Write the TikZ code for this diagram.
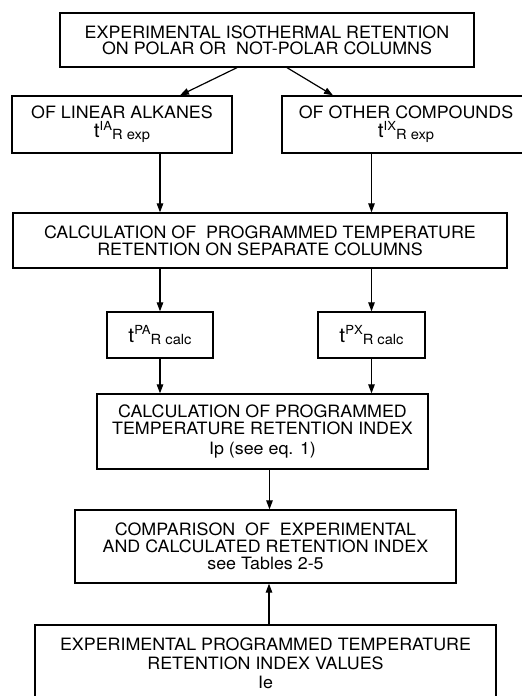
\documentclass[tikz,border=0pt]{standalone}
\usepackage{fontspec}
\setmainfont{TeX Gyre Heros}[FakeStretch=1.05]
\usepackage{tikz}
\usetikzlibrary{arrows.meta}
\newcommand\tret[2]{{\fontsize{20}{20}\selectfont t}\raisebox{7.5pt}{\fontsize{12.5}{12.5}\selectfont #1}\raisebox{-2pt}{\fontsize{14}{14}\selectfont R #2}}
\tikzstyle{box}=[draw,line width=1.3pt,align=center,inner sep=0pt,font=\fontsize{17}{17}\selectfont]
\tikzstyle{arr}=[line width=1.2pt,-{Triangle[length=9pt,width=6.5pt]}]

\begin{document}
\begin{tikzpicture}[x=1pt,y=-1pt]
	\useasboundingbox (0,0) rectangle (522,696);
	\node[box,minimum width=414pt,minimum height=54pt,font=\fontsize{17}{16}\selectfont] (top) at (267,40)
		{EXPERIMENTAL ISOTHERMAL RETENTION\\ON POLAR OR\ \ NOT-POLAR COLUMNS};
	\node[box,minimum width=220pt,minimum height=57pt] (alk) at (122,124.5)
		{OF LINEAR ALKANES\\[2pt]\tret{IA}{exp}};
	\node[box,minimum width=248pt,minimum height=57pt] (oth) at (406,124.5)
		{OF OTHER COMPOUNDS\\[2pt]\tret{IX}{exp}};
	\node[box,minimum width=494pt,minimum height=55pt] (calc) at (260,240.5)
		{CALCULATION OF\ \ PROGRAMMED TEMPERATURE\\RETENTION ON SEPARATE COLUMNS};
	\node[box,minimum width=106pt,minimum height=46pt] (pa) at (160,335) {\tret{PA}{calc}};
	\node[box,minimum width=107pt,minimum height=46pt] (px) at (371.5,335) {\tret{PX}{calc}};
	\node[box,minimum width=331pt,minimum height=75pt] (idx) at (262.5,431.5)
		{CALCULATION OF PROGRAMMED\\TEMPERATURE RETENTION INDEX\\[3pt]Ip (see eq. 1)};
	\node[box,minimum width=381pt,minimum height=73pt] (cmp) at (265.5,546.5)
		{COMPARISON\ \ OF\ \ EXPERIMENTAL\\AND CALCULATED RETENTION INDEX\\see Tables 2-5};
	\node[box,minimum width=461pt,minimum height=76pt] (ie) at (265.5,663)
		{EXPERIMENTAL PROGRAMMED TEMPERATURE\\[2pt]RETENTION INDEX VALUES\\[2pt]Ie};
	% arrows
	\draw[arr] ([xshift=-30pt]top.south) -- ([xshift=58pt]alk.north);
	\draw[arr] ([xshift=20pt]top.south) -- ([xshift=-73pt]oth.north);
	\draw[arr] (alk.south -| pa) -- (calc.north -| pa);
	\draw[arr] (oth.south -| px) -- (calc.north -| px);
	\draw[arr] (calc.south -| pa) -- (pa);
	\draw[arr] (calc.south -| px) -- (px);
	\draw[arr] (pa) -- (idx.north -| pa);
	\draw[arr] (px) -- (idx.north -| px);
	\coordinate (mid) at ([xshift=7pt]idx.south);
	\draw[arr] (mid) -- (mid |- cmp.north);
	\coordinate (up) at ([xshift=3.5pt]ie.north);
	\draw[arr] (up) -- (up |- cmp.south);
\end{tikzpicture}
\end{document}
